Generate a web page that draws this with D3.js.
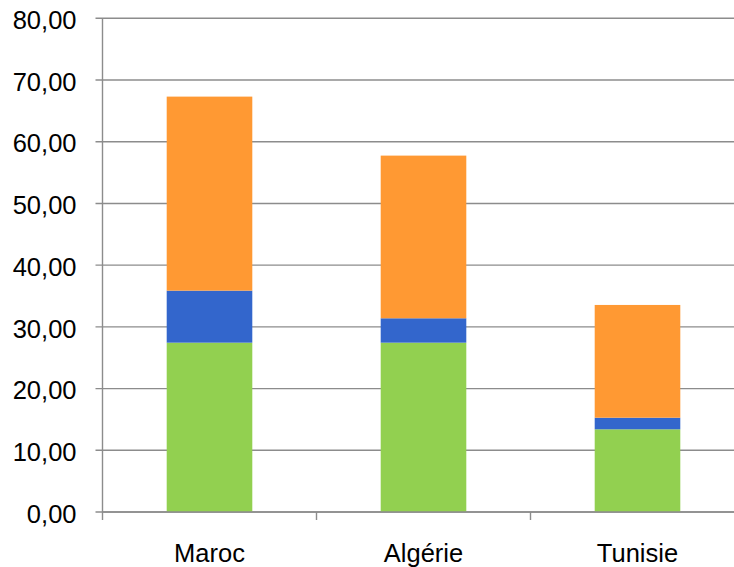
<!DOCTYPE html>
<html>
<head>
<meta charset="utf-8">
<script src="https://cdn.jsdelivr.net/npm/d3@7"></script>
<style>
  html, body { margin: 0; padding: 0; background: #fff; }
  svg { display: block; }
</style>
</head>
<body>
<svg id="chart" width="734" height="567"></svg>
<script>
const categories = ["Maroc", "Algérie", "Tunisie"];
const seriesNames = ["s1", "s2", "s3"];
const seriesGreen = [27.44, 27.44, 13.40];
const seriesBlue = [8.43, 3.95, 1.88];
const seriesOrange = [31.44, 26.36, 18.27];
const yTicks = [0, 10, 20, 30, 40, 50, 60, 70, 80];
const colors = ["#92D050", "#3366CC", "#FF9933"];

const rows = categories.map((c, i) => ({
  cat: c, s1: seriesGreen[i], s2: seriesBlue[i], s3: seriesOrange[i]
}));

const svg = d3.select("#chart");
const m = { left: 102.5, top: 18.3, right: 744.5, bottom: 512 };

const x = d3.scaleBand().domain(categories)
  .range([m.left, m.right]).paddingInner(0.6).paddingOuter(0.3);
const y = d3.scaleLinear().domain([0, 80]).range([m.bottom, m.top]);

const gridColor = "#8c8c8c";
const font = "Liberation Sans, Arial, sans-serif";

// gridlines
svg.append("g").selectAll("line").data(yTicks).join("line")
  .attr("x1", m.left - 7).attr("x2", m.right)
  .attr("y1", d => y(d)).attr("y2", d => y(d))
  .attr("stroke", gridColor).attr("stroke-width", 1.4);

// y labels
const fmt = d => d3.format(".2f")(d).replace(".", ",");
svg.append("g").selectAll("text").data(yTicks).join("text")
  .attr("x", 76.5).attr("y", d => y(d))
  .attr("dy", "0.42em").attr("text-anchor", "end")
  .attr("font-family", font)
  .attr("font-size", 25.5).attr("fill", "#000")
  .text(fmt);

// stacked bars
const stack = d3.stack().keys(seriesNames)(rows);
svg.append("g").selectAll("g").data(stack).join("g")
  .attr("fill", (d, i) => colors[i])
  .selectAll("rect").data(d => d).join("rect")
  .attr("x", d => x(d.data.cat))
  .attr("width", x.bandwidth())
  .attr("y", d => y(d[1]))
  .attr("height", d => y(d[0]) - y(d[1]));

// y axis line
svg.append("line")
  .attr("x1", m.left).attr("x2", m.left)
  .attr("y1", m.top).attr("y2", m.bottom)
  .attr("stroke", gridColor).attr("stroke-width", 1.4);

// x axis line
svg.append("line")
  .attr("x1", m.left).attr("x2", m.right)
  .attr("y1", m.bottom).attr("y2", m.bottom)
  .attr("stroke", gridColor).attr("stroke-width", 1.4);

// x ticks at band boundaries
const step = x.step();
const bounds = d3.range(categories.length + 1).map(i => m.left + i * step);
svg.append("g").selectAll("line").data(bounds).join("line")
  .attr("x1", d => d).attr("x2", d => d)
  .attr("y1", m.bottom).attr("y2", m.bottom + 8)
  .attr("stroke", gridColor).attr("stroke-width", 1.4);

// x labels
svg.append("g").selectAll("text").data(categories).join("text")
  .attr("x", d => x(d) + x.bandwidth() / 2)
  .attr("y", 562)
  .attr("text-anchor", "middle")
  .attr("font-family", font)
  .attr("font-size", 25.5).attr("fill", "#000")
  .text(d => d);
</script>
</body>
</html>
